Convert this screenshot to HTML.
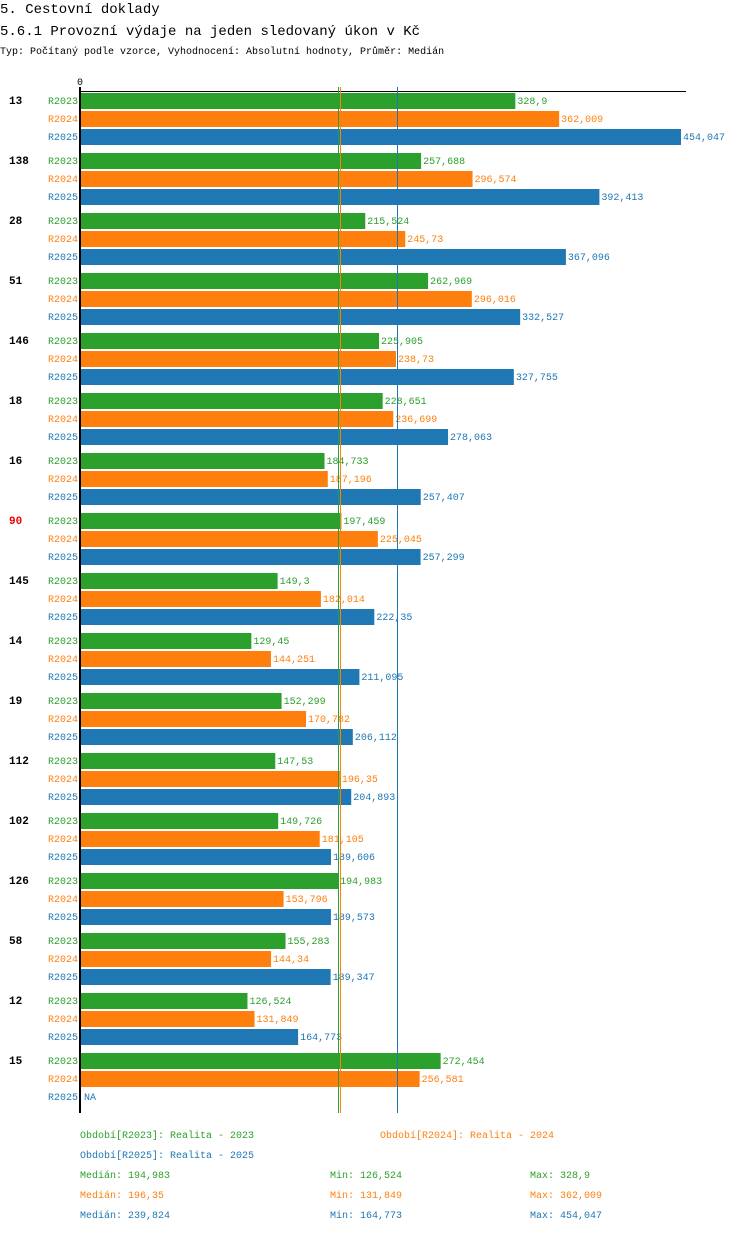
<!DOCTYPE html>
<html><head><meta charset="utf-8"><style>
body{margin:0;background:#fff;width:750px;height:1232px;overflow:hidden;font-family:"Liberation Mono",monospace;}
svg text{font-family:"Liberation Mono",monospace;}
</style></head><body>
<svg id="c" width="750" height="1232" xmlns="http://www.w3.org/2000/svg">
<text x="0" y="13" font-size="14">5. Cestovní doklady</text>
<text x="0" y="35" font-size="14">5.6.1 Provozní výdaje na jeden sledovaný úkon v Kč</text>
<text x="0" y="54" font-size="10">Typ: Počítaný podle vzorce, Vyhodnocení: Absolutní hodnoty, Průměr: Medián</text>
<text x="80" y="85" font-size="10" text-anchor="middle">0</text>
<line x1="80" y1="91.5" x2="686" y2="91.5" stroke="#000"/>
<line x1="80" y1="87" x2="80" y2="1113" stroke="#000" stroke-width="2"/>
<g id="bars"></g><g id="meds"></g><g id="foot"></g>
</svg>
<script>
const categories=["13","138","28","51","146","18","16","90","145","14","19","112","102","126","58","12","15"];
const r2023=[328.9,257.688,215.524,262.969,225.905,228.651,184.733,197.459,149.3,129.45,152.299,147.53,149.726,194.983,155.283,126.524,272.454];
const r2024=[362.009,296.574,245.73,296.016,238.73,236.699,187.196,225.045,182.014,144.251,170.782,196.35,181.105,153.796,144.34,131.849,256.581];
const r2025=[454.047,392.413,367.096,332.527,327.755,278.063,257.407,257.299,222.35,211.095,206.112,204.893,189.606,189.573,189.347,164.773,null];
const medians=[194.983,196.35,239.824];
const mins=[126.524,131.849,164.773];
const maxs=[328.9,362.009,454.047];
const seriesNames=["R2023","R2024","R2025"];
const colors=["#2ca02c","#ff7f0e","#1f77b4"];
const NS="http://www.w3.org/2000/svg";
const x=v=>80+v*(601/454.047);
const fmt=v=>String(+v.toFixed(3)).replace('.',',');
function el(t,a,p,txt){const e=document.createElementNS(NS,t);for(const k in a)e.setAttribute(k,a[k]);if(txt!=null)e.textContent=txt;p.appendChild(e);return e;}
const bars=document.getElementById('bars');
const series=[r2023,r2024,r2025];
categories.forEach((c,i)=>{
  const gy=93+i*60;
  const lab=el('text',{x:9,y:gy+11,'font-size':11,'font-weight':'bold',fill:c==="90"?"#e00":"#000"},bars,c);
  
  
  series.forEach((s,j)=>{
    const y=gy+j*18, v=s[i];
    const sl=el('text',{x:78,y:y+11,'font-size':10,'text-anchor':'end',fill:colors[j]},bars,seriesNames[j]);
    
    
    if(v==null){
      const na=el('text',{x:84,y:y+11,'font-size':10,fill:colors[j]},bars,'NA');
      
      
      return;
    }
    const r=el('rect',{x:81,y:y,width:x(v)-81,height:16,fill:colors[j]},bars);
    
    
    const t=el('text',{x:x(v)+2,y:y+11,'font-size':10,fill:colors[j]},bars,fmt(v));
    
    
  });
});
const meds=document.getElementById('meds');
medians.forEach((m,j)=>{
  const px=Math.round(x(m))+0.5;
  const l=el('line',{x1:px,y1:87,x2:px,y2:1113,stroke:colors[j],'stroke-width':1},meds);
  
  
});
const foot=document.getElementById('foot');
const leg=[["Období[R2023]: Realita - 2023",80,1138,0],["Období[R2024]: Realita - 2024",380,1138,1],["Období[R2025]: Realita - 2025",80,1158,2]];
leg.forEach(l=>{
  const t=el('text',{x:l[1],y:l[2],'font-size':10,fill:colors[l[3]]},foot,l[0]);
  
  
});
[0,1,2].forEach(j=>{
  const y=1178+j*20;
  const a=el('text',{x:80,y:y,'font-size':10,fill:colors[j]},foot,'Medián: '+fmt(medians[j]));
  
  
  const b=el('text',{x:330,y:y,'font-size':10,fill:colors[j]},foot,'Min: '+fmt(mins[j]));
  
  
  const c=el('text',{x:530,y:y,'font-size':10,fill:colors[j]},foot,'Max: '+fmt(maxs[j]));
  
  
});
</script>
</body></html>
